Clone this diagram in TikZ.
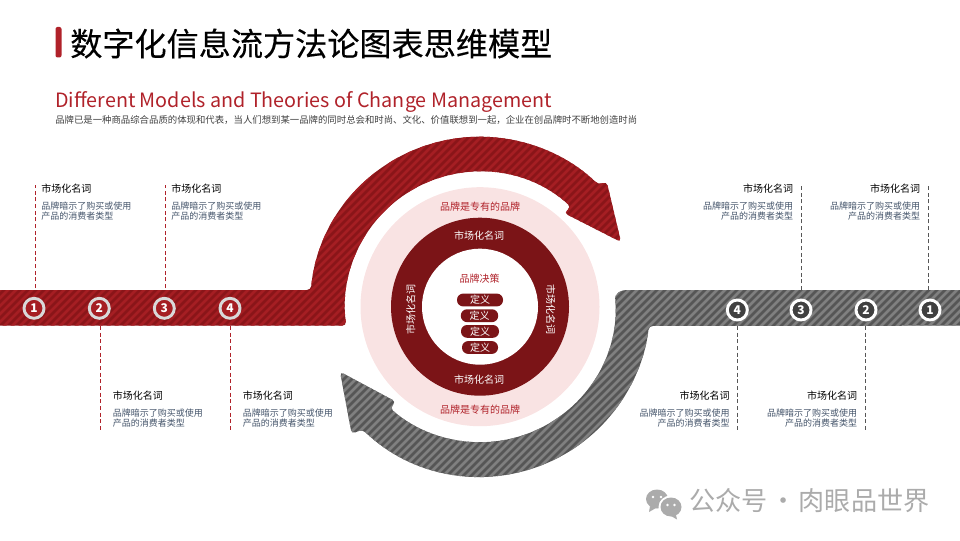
\documentclass[tikz,border=0pt]{standalone}
\usepackage{fontspec}
\setmainfont{Noto Sans CJK SC}
\newfontfamily\titlefont[FakeBold=0.25]{Noto Sans CJK SC}
\usepackage{xcolor}
\usetikzlibrary{calc}
\definecolor{redbase}{HTML}{8A1519}
\definecolor{redline}{HTML}{A51E23}
\definecolor{redring}{HTML}{7B1417}
\definecolor{redtext}{HTML}{B0222A}
\definecolor{pinkdisc}{HTML}{F9E3E3}
\definecolor{graybase}{HTML}{565656}
\definecolor{grayline}{HTML}{808080}
\definecolor{graydark}{HTML}{404040}
\definecolor{bodytext}{HTML}{44546A}
\tikzset{
  headtext/.style={font=\fontsize{7.5}{9}\selectfont,text=black,inner sep=0pt},
  bodynote/.style={font=\fontsize{6.75}{7.5}\selectfont,text=bodytext,inner sep=0pt,align=#1},
  ringtext/.style={font=\fontsize{7.5}{9}\selectfont,text=white,inner sep=0pt},
  disctext/.style={font=\fontsize{7.5}{9}\selectfont,text=redtext,inner sep=0pt},
  pill/.style={fill=redring,rounded corners=4.6pt,minimum height=9.6pt,inner sep=0pt,font=\fontsize{7.5}{9}\selectfont,text=white},
  numred/.style={circle,draw=black!15,line width=2.2pt,fill=redline,text=white,minimum size=15pt,inner sep=0pt,font=\fontsize{9}{9}\selectfont\bfseries},
  numgray/.style={circle,draw=white,line width=2.2pt,fill=graydark,text=white,minimum size=15pt,inner sep=0pt,font=\fontsize{9}{9}\selectfont\bfseries},
  redlink/.style={redtext,densely dashed,line width=0.6pt},
  graylink/.style={graybase,densely dashed,line width=0.6pt}
}
\begin{document}
\begin{tikzpicture}[x=0.75pt,y=0.75pt]
\useasboundingbox (0,0) rectangle (960,540);
\coordinate (c) at (480,233.3);

% heading
\fill[redtext,rounded corners=1.5] (55.5,482.5) rectangle (61.5,513);
\node[anchor=west,inner sep=0pt,font=\titlefont\fontsize{24.1}{30}\selectfont] (title) at (70,496.5) {数字化信息流方法论图表思维模型};
\node[anchor=west,inner sep=0pt,text=redtext,font=\fontsize{14.8}{18}\selectfont] (subtitle) at (55,438.5) {Different Models and Theories of Change Management};
\node[anchor=west,inner sep=0pt,text=graydark,font=\fontsize{7.04}{9}\selectfont] (intro) at (55,419.5) {品牌已是一种商品综合品质的体现和代表，当人们想到某一品牌的同时总会和时尚、文化、价值联想到一起，企业在创品牌时不断地创造时尚};

% red arrow
\begin{scope}
\clip[rounded corners=3] (-5,250) -- (305,250)
  -- ($(c)+(174.4:170)$) arc (174.4:45.9:170)
  -- (606.7,358.3) -- (621,298) -- (564,327) -- ($(c)+(47.6:135)$)
  arc (47.6:188.1:135) -- (-5,214.3) -- cycle;
\fill[redbase] (-5,150) rectangle (640,410);
\foreach \x in {-260,-252,...,640}
  \draw[redline,line width=2pt] (\x,150) -- (\x+260,410);
\end{scope}

% gray arrow
\begin{scope}
\clip[rounded corners=3] (965,250) -- (622,250) -- (615,245)
  -- ($(c)+(3:135.5)$) arc (3:-131.7:135.5)
  -- (396,138.3) -- (340,168.3) -- (351.7,106) -- ($(c)+(-133.8:170)$)
  arc (-133.8:-6.5:170) -- (965,214.3) -- cycle;
\fill[graybase] (330,55) rectangle (965,255);
\foreach \x in {130,138,...,965}
  \draw[grayline,line width=2pt] (\x,55) -- (\x+200,255);
\end{scope}

% centre discs
\fill[pinkdisc] (c) circle (119.5);
\fill[redring] (c) circle (89);
\fill[white] (c) circle (58);
\node[disctext] (top) at (480,333.3) {品牌是专有的品牌};
\node[disctext] (bottom) at (480,130.7) {品牌是专有的品牌};
\node[ringtext] (ringn) at (479,304.7) {市场化名词};
\node[ringtext] (rings) at (479,160.7) {市场化名词};
\node[ringtext,rotate=90] (ringw) at (410.7,231) {市场化名词};
\node[ringtext,rotate=-90] (ringe) at (550.7,231) {市场化名词};
\node[disctext] (decide) at (479.5,261.3) {品牌决策};
\node[pill,minimum width=34.5pt] (pa) at (480,240) {定义};
\node[pill,minimum width=28pt] (pb) at (479.5,224.3) {定义};
\node[pill,minimum width=28.5pt] (pc) at (480,208.6) {定义};
\node[pill,minimum width=27pt] (pd) at (480,192.5) {定义};

% numbered marks
\foreach \i/\x in {1/34,2/99.3,3/164.3,4/230}
  \node[numred] (l\i) at (\x,231.7) {\i};
\foreach \i/\x in {4/737.3,3/801,2/866,1/930}
  \node[numgray] (r\i) at (\x,230) {\i};

% leader lines
\foreach \n/\x/\ya/\yb in {la/35.5/252/355,lc/165.3/252/355,lb/100.3/214/110,ld/230.2/214/110}{
  \coordinate (\n s) at (\x,\ya);
  \coordinate (\n e) at (\x,\yb);
  \draw[redlink] (\n s) -- (\n e);
}
\foreach \n/\x/\ya/\yb in {ra/928.5/250/355,rc/801.7/250/355,rb/865.7/214/110,rd/737.5/214/110}{
  \coordinate (\n s) at (\x,\ya);
  \coordinate (\n e) at (\x,\yb);
  \draw[graylink] (\n s) -- (\n e);
}

% notes, left side
\foreach \n/\x/\y in {na/41/351.5,nc/171/351.5,nb/112.5/144.3,nd/242.5/144.3}{
  \node[headtext,anchor=west] (\n h) at (\x,\y) {市场化名词};
  \node[bodynote=left,anchor=north west] (\n t) at (\x,\y-13) {品牌暗示了购买或使用\\产品的消费者类型};
}
% notes, right side
\foreach \n/\x/\y in {ma/920.5/351.5,mc/793.5/351.5,mb/857.5/144.3,md/730/144.3}{
  \node[headtext,anchor=east] (\n h) at (\x,\y) {市场化名词};
  \node[bodynote=right,anchor=north east] (\n t) at (\x,\y-13) {品牌暗示了购买或使用\\产品的消费者类型};
}

% watermark
\fill[black!33] (657,41) ellipse (11 and 9.5);
\fill[black!33] (650,34) -- (649,28) -- (656,32) -- cycle;
\fill[white] (671,33) ellipse (12.5 and 11.5);
\fill[black!33] (671,33) ellipse (10.5 and 9.5);
\fill[black!33] (676,25) -- (677,20.5) -- (671,24) -- cycle;
\foreach \x/\y in {653/43,661/43,667.5/35,674.5/35}
  \fill[white] (\x,\y) circle (1.3);
\node[anchor=west,inner sep=0pt,text=black!33,font=\fontsize{19.6}{22}\selectfont] (mark) at (689,39) {公众号 \hspace{-2.5pt}·\hspace{-2.5pt} 肉眼品世界};
\end{tikzpicture}
\end{document}
